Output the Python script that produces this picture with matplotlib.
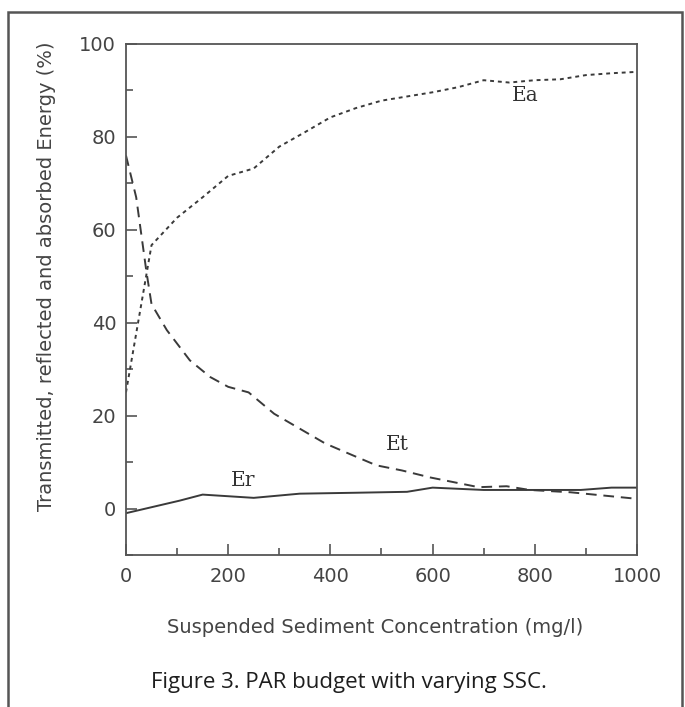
import matplotlib
matplotlib.use('Agg')
import matplotlib.pyplot as plt
from matplotlib.ticker import MultipleLocator
from matplotlib.patches import Rectangle

# PAR budget vs suspended sediment concentration (mg/l)
ssc_ea = [0, 50, 100, 150, 200, 250, 300, 350, 400, 450, 500, 550, 600, 650, 700, 750, 800, 850, 900, 950, 1000]
ea = [25.0, 56.7, 62.6, 67.0, 71.6, 73.2, 77.9, 81.0, 84.2, 86.2, 87.8, 88.7, 89.6, 90.7, 92.2, 91.7, 92.2, 92.4, 93.3, 93.7, 94.0]

ssc_et = [0, 20, 40, 50, 80, 125, 165, 200, 240, 290, 340, 390, 445, 490, 540, 595, 690, 745, 790, 870, 990]
et = [76.0, 67.0, 51.0, 44.0, 38.4, 31.9, 28.3, 26.2, 25.0, 20.4, 17.2, 14.0, 11.4, 9.3, 8.2, 6.7, 4.6, 4.8, 4.0, 3.5, 2.2]

ssc_er = [0, 105, 150, 250, 340, 450, 550, 600, 700, 800, 890, 950, 1000]
er = [-1.0, 1.7, 3.0, 2.3, 3.2, 3.4, 3.6, 4.5, 4.0, 4.0, 4.0, 4.5, 4.5]

label_pos = {'Ea': (781, 89), 'Et': (532, 13.8), 'Er': (229, 6.0)}

ink = '#3a3a3a'
txt = '#444444'

fig = plt.figure(figsize=(6.85, 7.07), dpi=100)
ax = fig.add_axes([0.1839, 0.2150, 0.7460, 0.7228])

ax.plot(ssc_ea, ea, color=ink, lw=1.4, linestyle=(0, (2.0, 2.0)))
ax.plot(ssc_et, et, color=ink, lw=1.4, linestyle=(0, (5.5, 3.5)))
ax.plot(ssc_er, er, color=ink, lw=1.4, linestyle='-')

for name, (lx, ly) in label_pos.items():
    ax.text(lx, ly, name, family='DejaVu Serif', fontsize=14.5, color='#333333',
            ha='center', va='center')

ax.set_xlim(0, 1000)
ax.set_ylim(-10, 100)
ax.xaxis.set_major_locator(MultipleLocator(200))
ax.xaxis.set_minor_locator(MultipleLocator(100))
ax.yaxis.set_major_locator(MultipleLocator(20))
ax.yaxis.set_minor_locator(MultipleLocator(10))
ax.tick_params(which='both', direction='in', color='#555555', width=1.2,
               top=False, right=False)
ax.tick_params(which='major', length=8)
ax.tick_params(which='minor', length=5)
ax.tick_params(axis='x', pad=9, labelsize=14, labelcolor=txt)
ax.tick_params(axis='y', pad=7, labelsize=14, labelcolor=txt)
for s in ax.spines.values():
    s.set_color('#555555')
    s.set_linewidth(1.3)

ax.set_xlabel('Suspended Sediment Concentration (mg/l)', fontsize=14, color=txt)
ax.set_ylabel('Transmitted, reflected and absorbed Energy (%)', fontsize=14, color=txt)
ax.xaxis.set_label_coords(0.488, -0.123)
ax.yaxis.set_label_coords(-0.136, 0.545)

fig.text(0.509, 0.034, 'Figure 3. PAR budget with varying SSC.', family='Open Sans',
         fontsize=16, color='#1e1e1e', ha='center', va='center')

# outer frame round the figure
fig.patches.append(Rectangle((0.011, -0.02), 0.984, 1.003, transform=fig.transFigure,
                             fill=False, edgecolor='#555555', lw=1.8))

fig.savefig('out.png', dpi=100)
